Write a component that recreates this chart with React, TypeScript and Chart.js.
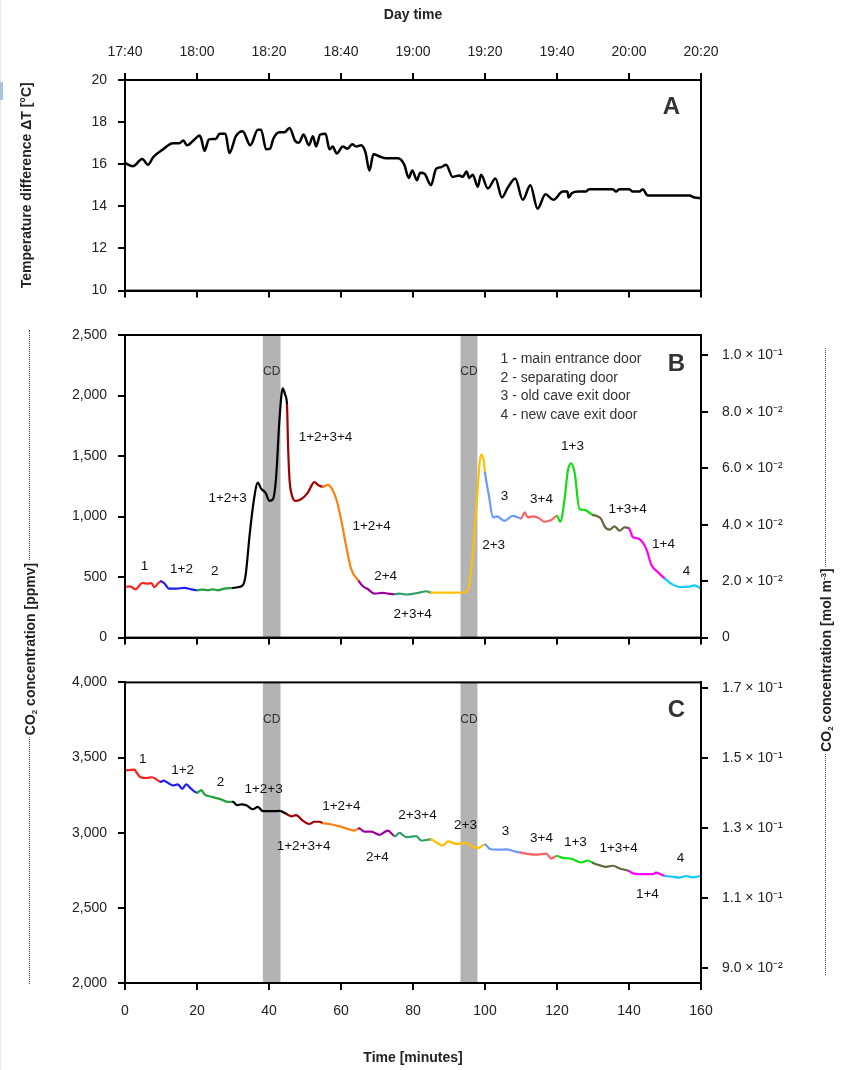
import React, { useEffect, useRef } from 'react';
import { Chart, registerables } from 'chart.js';

Chart.register(...registerables);

const FONT_FAMILY = '"Liberation Sans", Arial, Helvetica, sans-serif';

// ---------- axes ----------
const MINUTE_TICKS = [0, 20, 40, 60, 80, 100, 120, 140, 160];
const DAY_TIME_LABELS = ['17:40', '18:00', '18:20', '18:40', '19:00', '19:20', '19:40', '20:00', '20:20'];
const TEMP_TICKS = [10, 12, 14, 16, 18, 20];
const PPMV_TICKS_B = [0, 500, 1000, 1500, 2000, 2500];
const PPMV_TICKS_C = [2000, 2500, 3000, 3500, 4000];
const MOL_TICKS_B = [0, 0.02, 0.04, 0.06, 0.08, 0.1];
const MOL_LABELS_B = ['0', '2.0 × 10⁻²', '4.0 × 10⁻²', '6.0 × 10⁻²', '8.0 × 10⁻²', '1.0 × 10⁻¹'];
const MOL_TICKS_C = [0.09, 0.11, 0.13, 0.15, 0.17];
const MOL_LABELS_C = ['9.0 × 10⁻²', '1.1 × 10⁻¹', '1.3 × 10⁻¹', '1.5 × 10⁻¹', '1.7 × 10⁻¹'];
const MOL_PER_PPMV = 4.29e-5;

// ---------- door phases ----------
const PHASE_LABELS = ['1', '1+2', '2', '1+2+3', '1+2+3+4', '1+2+4', '2+4', '2+3+4', '2+3', '3', '3+4', '1+3', '1+3+4', '1+4', '4'];
const PHASE_STARTS = [0, 10, 20, 30, 45, 55, 65, 75, 85, 100, 110, 120, 130, 140, 150];
const PHASE_COLORS = ['#ff2020', '#1c1cff', '#22a03c', '#000000', '#a00000', '#ff7f10', '#9a00a0', '#30a066', '#ffc000', '#6e98ff', '#ff6262', '#11dd11', '#66663a', '#ff00ff', '#14c8ff'];
const CD_BANDS = [[38.3, 43.2], [93.2, 97.9]];

// ---------- panel A: temperature difference ----------
const TIME_A = [0, 2.2, 4.8, 6.4, 7.8, 10.5, 13.3, 15.1, 16.2, 17.2, 19.3, 20.7, 21.2, 22.1, 23.3, 25.2, 26.3, 27.9, 29.0, 30.8, 32.7, 34.8, 36.9, 37.8, 39.2, 40.3, 41.2, 42.9, 44.3, 45.7, 47.3, 48.3, 49.6, 51.1, 52.2, 53.1, 54.2, 55.7, 56.8, 57.7, 58.8, 60.5, 61.8, 63.1, 64.2, 65.6, 66.8, 67.9, 69.0, 70.7, 72.5, 75.8, 77.6, 78.8, 79.8, 81.1, 82.0, 83.2, 85.0, 86.4, 87.8, 89.2, 91.0, 92.9, 93.8, 94.9, 95.6, 96.6, 98.0, 98.9, 100.8, 102.9, 104.7, 106.3, 108.4, 110.5, 112.6, 114.6, 116.8, 119.0, 121.6, 122.9, 123.2, 124.1, 126.0, 128.0, 128.9, 135.5, 136.4, 137.3, 140.1, 141.0, 142.9, 143.8, 145.2, 156.8, 158.2, 160];
const DELTA_T = [16.06, 15.9, 16.25, 15.97, 16.33, 16.7, 17.0, 17.0, 17.13, 16.9, 17.18, 17.36, 17.2, 16.64, 17.18, 17.2, 17.45, 17.45, 16.53, 17.33, 17.57, 16.9, 17.64, 17.64, 16.71, 16.74, 17.21, 17.52, 17.52, 17.72, 17.1, 17.02, 17.41, 16.9, 17.33, 16.84, 17.41, 17.45, 16.71, 16.84, 16.51, 16.84, 16.74, 16.95, 16.84, 16.9, 16.56, 15.7, 16.48, 16.37, 16.28, 16.28, 15.97, 15.35, 15.7, 15.24, 15.6, 15.55, 15.0, 15.78, 15.86, 15.97, 15.4, 15.47, 15.4, 15.66, 15.35, 15.5, 14.93, 15.5, 14.85, 15.32, 14.42, 14.88, 15.32, 14.31, 15.0, 13.89, 14.57, 14.31, 14.7, 14.7, 14.42, 14.62, 14.7, 14.7, 14.81, 14.81, 14.7, 14.81, 14.81, 14.7, 14.7, 14.81, 14.51, 14.51, 14.42, 14.39];

// ---------- panel B: CO2 in the cave entrance ----------
const TIME_B = [0, 1.4, 2.9, 4.8, 6.3, 7.3, 8.2, 9.1, 10, 11, 12.2, 14.2, 16.5, 18.4, 20, 21.6, 23, 24.4, 25.8, 27.6, 30, 31.3, 32.7, 33.5, 34.6, 35.7, 36.9, 37.8, 39, 40.1, 41.1, 42, 42.9, 43.8, 44.5, 45, 45.3, 45.7, 46.4, 47.5, 48.9, 50.8, 52.6, 53.6, 55, 56.3, 57.3, 58.7, 60, 61.4, 62.8, 65, 66.1, 67.5, 69.3, 71.6, 73, 75, 76.25, 78.1, 79.9, 81.8, 83.7, 85, 88.3, 92, 94.8, 95.7, 96.6, 97.7, 98.9, 99.6, 100, 101.1, 102.2, 103.3, 105.4, 107.7, 110, 111, 111.9, 113.3, 115.1, 116.5, 118.4, 120, 120.9, 122.1, 123, 123.9, 124.9, 126.25, 127.6, 130, 130.9, 132.3, 133.2, 134.6, 136, 137.4, 138.75, 140, 141.1, 142.5, 144.8, 146.2, 148, 150, 151.7, 154, 156.8, 158.2, 160];
const CO2_B = [418, 424, 399, 451, 446, 451, 416, 446, 465, 446, 405, 405, 410, 399, 391, 397, 391, 399, 391, 405, 410, 416, 432, 514, 842, 1116, 1280, 1231, 1198, 1130, 1143, 1335, 1800, 2059, 2005, 1923, 1581, 1307, 1171, 1130, 1143, 1198, 1285, 1261, 1247, 1261, 1239, 1143, 979, 760, 569, 465, 424, 399, 364, 369, 364, 358, 364, 356, 361, 372, 383, 372, 372, 372, 377, 446, 678, 1116, 1512, 1471, 1362, 1171, 993, 1001, 965, 1006, 985, 1034, 993, 1001, 985, 957, 971, 1006, 957, 1143, 1376, 1439, 1362, 1061, 1056, 1012, 1006, 979, 919, 892, 919, 883, 911, 902, 829, 820, 733, 602, 541, 487, 446, 418, 421, 432, 405];

// ---------- panel C: CO2 inside the cave ----------
const TIME_C = [0, 2.6, 3.3, 4.2, 5.9, 7.5, 8.8, 10, 10.7, 11.9, 13.3, 14.7, 15.9, 17, 18.4, 20, 21.2, 22.1, 24.4, 26.7, 28.6, 30, 31.1, 32.3, 33.7, 35.5, 36.9, 38.3, 41.1, 42.9, 45, 46.2, 47.5, 49.4, 51.2, 52.6, 54, 55, 56.8, 59.6, 62.4, 63.8, 65, 66.5, 68.4, 70.7, 73, 75, 76.25, 78.1, 80.9, 82.3, 85, 86.4, 88.3, 89.7, 92, 94.8, 96.2, 98, 100, 101.25, 103.1, 105.9, 108.2, 110, 111.4, 114.2, 117, 118.4, 120, 121.6, 123.9, 126.7, 128.6, 130, 131.8, 133.7, 135.5, 137.4, 140, 141.1, 142.9, 146.6, 147.5, 150, 152.2, 154, 155.9, 157.7, 160];
const CO2_C = [3415, 3419, 3397, 3371, 3364, 3369, 3353, 3338, 3347, 3332, 3314, 3321, 3292, 3321, 3292, 3266, 3283, 3255, 3237, 3222, 3205, 3205, 3183, 3189, 3183, 3156, 3172, 3143, 3143, 3145, 3123, 3108, 3117, 3080, 3058, 3073, 3073, 3064, 3058, 3042, 3021, 3014, 3029, 3007, 3007, 2986, 3014, 2977, 2999, 2970, 2977, 2948, 2955, 2937, 2915, 2942, 2926, 2933, 2911, 2898, 2920, 2894, 2887, 2889, 2876, 2867, 2861, 2854, 2861, 2828, 2845, 2832, 2828, 2802, 2815, 2799, 2784, 2773, 2780, 2762, 2745, 2729, 2725, 2725, 2734, 2712, 2707, 2701, 2712, 2703, 2712];

// ---------- annotations [text, minute, value] ----------
const LABELS_B = [
  ['1', 5.4, 587], ['1+2', 15.7, 562], ['2', 24.9, 546], ['1+2+3', 28.5, 1147], ['1+2+3+4', 55.7, 1658],
  ['1+2+4', 68.5, 917], ['2+4', 72.4, 505], ['2+3+4', 79.9, 192], ['2+3', 102.4, 760], ['3', 105.4, 1164],
  ['3+4', 115.7, 1139], ['1+3', 124.3, 1584], ['1+3+4', 139.6, 1057], ['1+4', 149.6, 768], ['4', 156.0, 546],
];
const LABELS_C = [
  ['1', 4.9, 3489], ['1+2', 16.0, 3417], ['2', 26.5, 3338], ['1+2+3', 38.5, 3286], ['1+2+3+4', 49.6, 2911],
  ['1+2+4', 60.1, 3174], ['2+4', 70.1, 2839], ['2+3+4', 81.25, 3115], ['2+3', 94.6, 3050], ['3', 105.7, 3010],
  ['3+4', 115.7, 2964], ['1+3', 125.1, 2938], ['1+3+4', 137.1, 2899], ['1+4', 145.1, 2590], ['4', 154.3, 2833],
];
const LEGEND_LINES = ['1 - main entrance door', '2 - separating door', '3 - old cave exit door', '4 - new cave exit door'];
const LEGEND_T = 104.3;
const LEGEND_V = [2300, 2144, 1994, 1839];

const phaseColor = (t: number) => {
  let idx = 0;
  for (let i = 0; i < PHASE_STARTS.length; i++) if (t >= PHASE_STARTS[i]) idx = i;
  return PHASE_COLORS[idx];
};

const tickGrid = { display: true, drawOnChartArea: false, drawTicks: true, tickLength: 7, color: '#000', lineWidth: 2 };
const axisBorder = { display: true, color: '#000', width: 2 };
const tickFont = { size: 14, family: FONT_FAMILY };
const titleFont = { size: 14, weight: 'bold' as const, family: FONT_FAMILY };

function listTicks(list: number[]) {
  return (s: any) => { s.ticks = list.map((v) => ({ value: v })); };
}

function decorPlugin(spec: any) {
  return {
    id: 'panelDecor',
    beforeDatasetsDraw(chart: any) {
      if (!spec.bands) return;
      const { ctx, chartArea: a } = chart;
      const xs = chart.scales.x;
      ctx.save();
      ctx.fillStyle = '#b3b3b3';
      for (const [s, e] of CD_BANDS) {
        const x0 = xs.getPixelForValue(s);
        const x1 = xs.getPixelForValue(e);
        ctx.fillRect(x0, a.top, x1 - x0, a.bottom - a.top);
      }
      ctx.restore();
    },
    afterDatasetsDraw(chart: any) {
      const { ctx, chartArea: a } = chart;
      const xs = chart.scales.x;
      const ys = chart.scales.y;
      ctx.save();
      ctx.textAlign = 'center';
      ctx.textBaseline = 'middle';
      if (spec.bands) {
        ctx.font = `12px ${FONT_FAMILY}`;
        ctx.fillStyle = '#333';
        for (const [s, e] of CD_BANDS) ctx.fillText('CD', xs.getPixelForValue((s + e) / 2), ys.getPixelForValue(spec.cdValue));
      }
      ctx.font = `13.5px ${FONT_FAMILY}`;
      ctx.fillStyle = '#111';
      for (const [text, t, v] of spec.labels) ctx.fillText(text, xs.getPixelForValue(t), ys.getPixelForValue(v));
      if (spec.legend) {
        ctx.textAlign = 'left';
        ctx.font = `14px ${FONT_FAMILY}`;
        ctx.fillStyle = '#333';
        LEGEND_LINES.forEach((line, i) => ctx.fillText(line, xs.getPixelForValue(LEGEND_T), ys.getPixelForValue(LEGEND_V[i])));
      }
      const [letter, lt, lv] = spec.letter;
      ctx.textAlign = 'center';
      ctx.font = `bold 24px ${FONT_FAMILY}`;
      ctx.fillStyle = '#333';
      ctx.fillText(letter, xs.getPixelForValue(lt), ys.getPixelForValue(lv));
      ctx.lineWidth = 2;
      ctx.strokeStyle = '#000';
      ctx.strokeRect(a.left, a.top, a.right - a.left, a.bottom - a.top);
      ctx.restore();
    },
  };
}

function buildChart(canvas: HTMLCanvasElement, spec: any) {
  const data = spec.times.map((t: number, i: number) => ({ x: t, y: spec.values[i] }));
  const scales: any = {
    x: {
      type: 'linear', position: 'bottom', min: 0, max: 160,
      afterBuildTicks: listTicks(MINUTE_TICKS),
      afterFit: (s: any) => { s.height = spec.bottomHeight; },
      grid: tickGrid, border: axisBorder,
      ticks: { display: !!spec.bottomLabels, padding: 13, color: '#222', font: tickFont, maxRotation: 0, autoSkip: false },
      title: spec.bottomLabels
        ? { display: true, text: 'Time [minutes]', color: '#222', font: titleFont, padding: { top: 0, bottom: 3 } }
        : { display: false },
    },
    y: {
      type: 'linear', position: 'left', min: spec.yMin, max: spec.yMax,
      afterBuildTicks: listTicks(spec.yTicks),
      afterFit: (s: any) => { s.width = 125; },
      grid: tickGrid, border: axisBorder,
      ticks: { padding: 11, color: '#222', font: tickFont, autoSkip: false, callback: (v: any) => Number(v).toLocaleString('en-US') },
      title: spec.yTitle
        ? { display: true, text: spec.yTitle, color: '#222', font: titleFont, padding: { top: 19, bottom: 0 } }
        : { display: false },
    },
  };
  if (spec.topAxis) {
    scales.xTop = {
      type: 'linear', position: 'top', min: 0, max: 160,
      afterBuildTicks: listTicks(MINUTE_TICKS),
      afterFit: (s: any) => { s.height = 80; },
      grid: tickGrid, border: axisBorder,
      ticks: { padding: 12, color: '#222', font: tickFont, maxRotation: 0, autoSkip: false, callback: (_v: any, i: number) => DAY_TIME_LABELS[i] },
      title: { display: true, text: 'Day time', color: '#222', font: titleFont, padding: { top: 7, bottom: 0 } },
    };
  }
  if (spec.molTicks) {
    scales.y2 = {
      type: 'linear', position: 'right', min: spec.yMin * MOL_PER_PPMV, max: spec.yMax * MOL_PER_PPMV,
      afterBuildTicks: listTicks(spec.molTicks),
      afterFit: (s: any) => { s.width = 142; },
      grid: tickGrid, border: axisBorder,
      ticks: { padding: 14, color: '#222', font: tickFont, autoSkip: false, callback: (_v: any, i: number) => spec.molLabels[i] },
    };
  }
  return new Chart(canvas, {
    type: 'line',
    data: {
      datasets: [{
        data,
        xAxisID: 'x', yAxisID: 'y',
        borderColor: '#000',
        borderWidth: spec.lineWidth,
        pointRadius: 0,
        cubicInterpolationMode: 'monotone',
        borderJoinStyle: 'round',
        borderCapStyle: 'round',
        segment: spec.colored
          ? { borderColor: (c: any) => phaseColor((c.p0.parsed.x + c.p1.parsed.x) / 2) }
          : undefined,
      } as any],
    },
    options: {
      responsive: false,
      maintainAspectRatio: false,
      animation: false,
      events: [],
      layout: { padding: spec.padding },
      plugins: { legend: { display: false }, tooltip: { enabled: false } },
      scales,
    } as any,
    plugins: [decorPlugin(spec)],
  });
}

const SPEC_A = {
  times: TIME_A, values: DELTA_T, colored: false, lineWidth: 2.5,
  yMin: 10, yMax: 20, yTicks: TEMP_TICKS, yTitle: 'Temperature difference ΔT [°C]',
  topAxis: true, bottomHeight: 15, bottomLabels: false,
  padding: { left: 0, right: 142, top: 0, bottom: 0 },
  labels: [], bands: false, letter: ['A', 151.8, 18.71],
};
const SPEC_B = {
  times: TIME_B, values: CO2_B, colored: true, lineWidth: 2.2,
  yMin: 0, yMax: 2500, yTicks: PPMV_TICKS_B, molTicks: MOL_TICKS_B, molLabels: MOL_LABELS_B,
  bottomHeight: 21, bottomLabels: false,
  padding: { left: 0, right: 0, top: 25, bottom: 0 },
  labels: LABELS_B, bands: true, cdValue: 2193, legend: true, letter: ['B', 153.2, 2259],
};
const SPEC_C = {
  times: TIME_C, values: CO2_C, colored: true, lineWidth: 2.2,
  yMin: 2000, yMax: 4000, yTicks: PPMV_TICKS_C, molTicks: MOL_TICKS_C, molLabels: MOL_LABELS_C,
  bottomHeight: 87, bottomLabels: true,
  padding: { left: 0, right: 0, top: 18, bottom: 0 },
  labels: LABELS_C, bands: true, cdValue: 3752, letter: ['C', 153.2, 3812],
};

const sideTitle: React.CSSProperties = {
  position: 'absolute',
  transform: 'translate(-50%, -50%) rotate(-90deg)',
  whiteSpace: 'nowrap',
  font: `bold 14px ${FONT_FAMILY}`,
  color: '#222',
  background: '#fff',
  padding: '0 2px',
  lineHeight: '16px',
};

export default function App() {
  const refA = useRef<HTMLCanvasElement>(null);
  const refB = useRef<HTMLCanvasElement>(null);
  const refC = useRef<HTMLCanvasElement>(null);

  useEffect(() => {
    const charts = [
      buildChart(refA.current!, SPEC_A),
      buildChart(refB.current!, SPEC_B),
      buildChart(refC.current!, SPEC_C),
    ];
    return () => charts.forEach((c) => c.destroy());
  }, []);

  return (
    <div style={{ position: 'absolute', left: 0, top: 0, width: 843, height: 1070, background: '#fff', overflow: 'hidden' }}>
      <div style={{ position: 'absolute', left: 0, top: 0, width: 1, height: 1070, background: '#e6e6e6' }} />
      <div style={{ position: 'absolute', left: 0, top: 82, width: 3, height: 18, background: '#a9c3df' }} />
      <canvas ref={refA} width={843} height={310} style={{ position: 'absolute', left: 0, top: 0 }} />
      <canvas ref={refB} width={843} height={350} style={{ position: 'absolute', left: 0, top: 310 }} />
      <canvas ref={refC} width={843} height={410} style={{ position: 'absolute', left: 0, top: 660 }} />
      <div style={{ position: 'absolute', left: 29, top: 330, height: 654, width: 0, borderLeft: '1px dotted #444' }} />
      <div style={{ ...sideTitle, left: 30, top: 649 }}>
        CO<sub style={{ fontSize: 8, verticalAlign: '-2px', lineHeight: 0 }}>2</sub> concentration [ppmv]
      </div>
      <div style={{ position: 'absolute', left: 825, top: 348, height: 627, width: 0, borderLeft: '1px dotted #444' }} />
      <div style={{ ...sideTitle, left: 826, top: 660 }}>
        CO<sub style={{ fontSize: 8, verticalAlign: '-2px', lineHeight: 0 }}>2</sub> concentration [mol m<sup style={{ fontSize: 8, verticalAlign: '5px', lineHeight: 0 }}>-3</sup>]
      </div>
    </div>
  );
}
